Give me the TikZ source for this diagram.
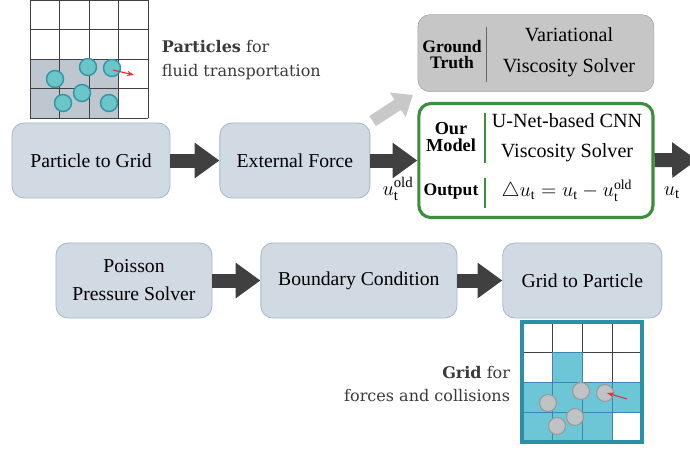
\documentclass[tikz,border=0pt]{standalone}
\usepackage{fontspec}
\setmainfont{Liberation Serif}
\newfontfamily\notefont{DejaVu Serif}
\usetikzlibrary{positioning, arrows.meta}

\definecolor{boxfill}{HTML}{D1D9E3}
\definecolor{boxline}{HTML}{A3BBCB}
\definecolor{arrowgray}{HTML}{404040}
\definecolor{softgray}{HTML}{C8C8C8}
\definecolor{truthfill}{HTML}{C6C6C6}
\definecolor{truthline}{HTML}{A4A4A4}
\definecolor{modelgreen}{HTML}{3C8D3C}
\definecolor{cellgray}{HTML}{BEC7CF}
\definecolor{particle}{HTML}{6CC5C8}
\definecolor{particleline}{HTML}{2E95A8}
\definecolor{cellteal}{HTML}{6CC6D6}
\definecolor{cellblue}{HTML}{3F82B5}
\definecolor{frameteal}{HTML}{2A90A8}
\definecolor{dotgray}{HTML}{BFC3C6}
\definecolor{dotline}{HTML}{9A9A9A}
\definecolor{velred}{HTML}{E03040}
\definecolor{notegray}{HTML}{3A3A3A}

\begin{document}
\begin{tikzpicture}[
        x=0.025cm, y=-0.025cm,
        node distance=1.2cm,
        stage/.style={rectangle, draw=boxline, fill=boxfill, rounded corners=0.3cm, minimum height=1.875cm, align=center, font=\fontsize{14}{20}\selectfont, line width=0.6pt},
        fat/.style={draw=arrowgray, line width=0.35cm, -{Triangle[length=0.62cm, width=0.85cm]}},
        softarrow/.style={draw=softgray, line width=0.3cm, -{Triangle[length=0.45cm, width=0.7cm]}},
        gridline/.style={draw=arrowgray, line width=0.5pt},
        tag/.style={font=\fontsize{12.5}{11.2}\selectfont\bfseries, align=center},
        note/.style={font=\notefont\fontsize{11.4}{17}\selectfont, text=notegray}
    ]
    \clip (0,0) rectangle (690,449);

    % Particles (top left)
    \fill[cellgray] (30,59) rectangle (118.5,118);
    \foreach \i in {0,...,4} {
        \draw[gridline] (30+29.5*\i,0) -- (30+29.5*\i,118);
        \draw[gridline] (30,29.5*\i) -- (148,29.5*\i);
    }
    \foreach \px/\py in {55/79, 88/67, 112/68, 82/93, 63/103, 109/103}
        \draw[fill=particle, draw=particleline, line width=1pt] (\px,\py) circle (8.5);
    \draw[velred, line width=0.8pt, -{Stealth[length=5pt]}] (113,70) -- (134,75);
    \node[note, anchor=west, align=left] (ptext) at (157,60) {\textbf{Particles} for\\fluid transportation};

    % First row
    \node[stage, minimum width=3.95cm] (p2g) at (91,160.5) {Particle to Grid};
    \node[stage, minimum width=3.75cm, right=1.225cm of p2g] (force) {External Force};
    \node[rectangle, draw=modelgreen, line width=2.2pt, fill=white, rounded corners=0.3cm,
          minimum width=5.85cm, minimum height=2.85cm, right=1.175cm of force] (ours) {};
    \node[rectangle, draw=truthline, fill=truthfill, rounded corners=0.3cm,
          minimum width=5.9cm, minimum height=1.925cm, above=0.25cm of ours] (truth) {};

    % Ground truth contents
    \node[tag] (gtlabel) at (452,54.5) {Ground\\Truth};
    \draw[arrowgray!80, line width=0.6pt] (486,27) -- (486,82);
    \node[align=center, font=\fontsize{14.3}{22}\selectfont] (gtsolver) at (569,52.5) {Variational\\Viscosity Solver};

    % Our model contents
    \node[tag, font=\fontsize{13}{12.5}\selectfont\bfseries] (ourlabel) at (451,137) {Our\\Model};
    \draw[modelgreen, line width=1.2pt] (485,113) -- (485,163);
    \node[align=center, font=\fontsize{14.3}{21.3}\selectfont] (cnn) at (567,138) {U-Net-based CNN\\Viscosity Solver};
    \node[tag, font=\fontsize{12.5}{12}\selectfont\bfseries] (outlabel) at (451,192) {Output};
    \draw[modelgreen, line width=1.2pt] (485,178) -- (485,208);
    \node[font=\fontsize{14}{16}\selectfont] (delta) at (567,191) {$\triangle u_{\mathrm{t}} = u_{\mathrm{t}} - u_{\mathrm{t}}^{\mathrm{old}}$};

    \draw[fat] (p2g) -- (force);
    \draw[fat] (force) -- (ours);
    \draw[softarrow, shorten <=2pt, shorten >=4pt] (force.north east) -- (truth.south west);
    \coordinate (exit) at (697,160);
    \draw[fat] (ours) -- (exit);
    \node[font=\fontsize{15}{16}\selectfont] (uold) at (398,189) {$u_{\mathrm{t}}^{\mathrm{old}}$};
    \node[font=\fontsize{15}{16}\selectfont] (unew) at (672,193) {$u_{\mathrm{t}}$};

    % Second row
    \node[stage, minimum width=3.9cm] (pressure) at (134,280.5) {Poisson\\Pressure Solver};
    \node[stage, minimum width=4.9cm, right=1.2cm of pressure] (boundary) {Boundary Condition};
    \node[stage, minimum width=3.975cm, right=1.125cm of boundary] (g2p) {Grid to Particle};
    \draw[fat] (pressure) -- (boundary);
    \draw[fat] (boundary) -- (g2p);

    % Grid (bottom right)
    \foreach \i in {0,...,4} {
        \draw[gridline] (522+30*\i,322) -- (522+30*\i,442);
        \draw[gridline] (522,322+30*\i) -- (642,322+30*\i);
    }
    \foreach \cx/\cy in {1/1, 0/2, 1/2, 2/2, 3/2, 0/3, 1/3, 2/3}
        \draw[fill=cellteal, draw=cellblue, line width=0.5pt] (522+30*\cx,322+30*\cy) rectangle ++(30,30);
    \draw[frameteal, line width=2.2pt] (522,322) rectangle (642,442);
    \foreach \px/\py in {548/403, 581/391, 605/393, 575/417, 557/426}
        \draw[fill=dotgray, draw=dotline, line width=0.8pt] (\px,\py) circle (8.5);
    \draw[velred, line width=0.8pt, -{Stealth[length=5pt]}] (627,399) -- (607,393);
    \node[note, anchor=east, align=right] (gtext) at (515,384) {\textbf{Grid} for\\forces and collisions};
\end{tikzpicture}
\end{document}
